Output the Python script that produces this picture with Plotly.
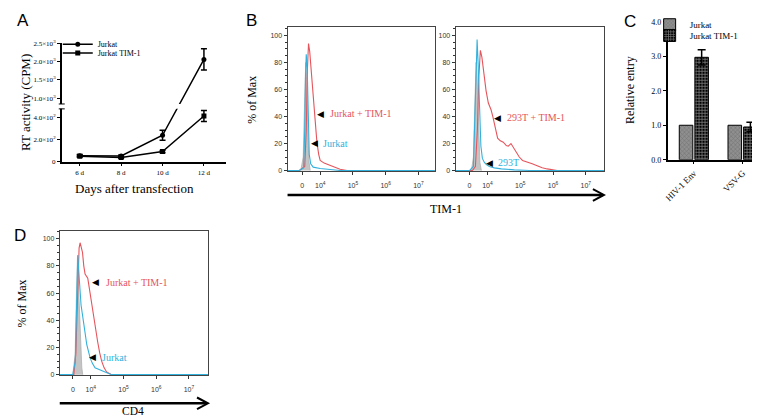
import plotly.graph_objects as go

W, H = 760, 417
def PX(px): return px / W
def PY(py): return 1 - py / H

SERIF = "Liberation Serif, Times New Roman, serif"
SANS = "Liberation Sans, Arial, sans-serif"
RED = "#e5555c"
BLUE = "#33b1dc"
GRAY = "#c4c4c4"

# ---------------- Panel A data ----------------
days = [6, 8, 10, 12]
day_labels = ["6 d", "8 d", "10 d", "12 d"]
rt_jurkat = [55, 52, 240, 2060]
rt_jurkat_err = [10, 8, 45, 290]
rt_tim1 = [50, 38, 92, 415]
rt_tim1_err = [8, 6, 10, 50]
rt_tick_vals = [0, 200, 400, 1000, 1500, 2000, 2500]
rt_tick_text = ["0", "2.0×10<sup>2</sup>", "4.0×10<sup>2</sup>", "1.0×10<sup>3</sup>",
                "1.5×10<sup>3</sup>", "2.0×10<sup>3</sup>", "2.5×10<sup>3</sup>"]

# broken y axis (GraphPad style): lower segment 0-480, upper 839-2500
LOW_TOP, UP_BOTTOM, UP_TOP = 480, 839, 2500
SEG_LOW, SEG_GAP, SEG_UP = 54, 5, 62
def brk(v):
    if v <= LOW_TOP:
        return v / LOW_TOP * SEG_LOW
    if v >= UP_BOTTOM:
        return SEG_LOW + SEG_GAP + (v - UP_BOTTOM) / (UP_TOP - UP_BOTTOM) * SEG_UP
    return SEG_LOW + (v - LOW_TOP) / (UP_BOTTOM - LOW_TOP) * SEG_GAP

# ---------------- Panel B / D data (flow histograms, biexponential display units) ----------------
flow_tick_vals = [3.45, 4, 5, 6, 7]
flow_tick_text = ["0", "10<sup>4</sup>", "10<sup>5</sup>", "10<sup>6</sup>", "10<sup>7</sup>"]
flow_minor = [3.1, 3.2, 3.3, 3.6, 3.7, 3.8, 3.9,
              4.301, 4.477, 4.602, 4.699, 4.778, 4.845, 4.903, 4.954,
              5.301, 5.477, 5.602, 5.699, 5.778, 5.845, 5.903, 5.954,
              6.301, 6.477, 6.602, 6.699, 6.778, 6.845, 6.903, 6.954,
              7.301, 7.477]

# B left: Jurkat
bl_iso_x = [3.404, 3.48, 3.526, 3.556, 3.587, 3.617, 3.648, 3.693]
bl_iso_y = [0, 10, 55, 80, 65, 30, 8, 0]
bl_ctrl_x = [3.0, 3.36, 3.49, 3.526, 3.55, 3.572, 3.602, 3.632, 3.663, 3.708, 3.784, 3.997, 4.301, 4.605, 7.55]
bl_ctrl_y = [0, 0, 2, 30, 70, 86, 75, 40, 12, 5, 2.5, 1.5, 0.8, 0, 0]
bl_tim_x = [3.0, 3.36, 3.526, 3.572, 3.608, 3.641, 3.678, 3.745, 3.815, 3.897, 3.952, 3.997,
            4.119, 4.301, 4.453, 4.605, 4.818, 7.55]
bl_tim_y = [0, 0, 3, 30, 75, 94, 88, 69, 43, 21, 12, 7.5, 5.5, 4, 2.5, 1, 0, 0]

# B right: 293T
br_iso_x = [3.511, 3.572, 3.617, 3.654, 3.684, 3.724, 3.769, 3.815]
br_iso_y = [0, 10, 50, 80, 70, 30, 6, 0]
br_ctrl_x = [3.0, 3.45, 3.572, 3.617, 3.654, 3.684, 3.714, 3.754, 3.80, 3.845, 3.906, 3.967,
             4.058, 4.21, 4.423, 4.818, 5.274, 7.55]
br_ctrl_y = [0, 0, 3, 40, 85, 97, 80, 45, 18, 9, 6, 4.5, 3, 2, 1.2, 0.5, 0, 0]
br_tim_x = [3.0, 3.541, 3.632, 3.693, 3.739, 3.784, 3.83, 3.891, 3.958, 4.027, 4.11, 4.164,
            4.225, 4.31, 4.392, 4.483, 4.575, 4.635, 4.717, 4.787, 4.869, 4.97, 5.07, 5.213,
            5.365, 5.517, 5.669, 5.821, 5.973, 6.125, 7.55]
br_tim_y = [0, 0, 3, 30, 70, 89, 84, 70, 59, 50, 45, 40, 34, 24, 22, 21, 18.5, 18, 20, 17,
            14, 10, 7.5, 6.5, 5, 3.5, 2, 1.2, 0.5, 0, 0]

# D: CD4 on Jurkat
d_iso_x = [3.45, 3.52, 3.562, 3.593, 3.632, 3.678, 3.724, 3.754]
d_iso_y = [0, 15, 60, 87, 60, 25, 5, 0]
d_ctrl_x = [3.0, 3.45, 3.526, 3.562, 3.602, 3.648, 3.702, 3.775, 3.83, 3.876, 3.976, 4.043,
            4.128, 4.331, 4.483, 4.635, 7.58]
d_ctrl_y = [0, 0, 10, 60, 88, 70, 51, 39, 30, 22, 12.5, 8.5, 5, 3, 1.5, 0, 0]
d_tim_x = [3.0, 3.48, 3.541, 3.602, 3.641, 3.672, 3.708, 3.745, 3.784, 3.824, 3.906, 3.976,
           4.028, 4.079, 4.149, 4.21, 4.271, 4.331, 4.407, 4.483, 4.635, 7.58]
d_tim_y = [0, 0, 15, 70, 93, 97, 94, 90, 80, 74, 71, 60, 51, 41, 31, 24, 16, 10, 5, 2, 0, 0]

# ---------------- Panel C data ----------------
entry_cats = ["HIV-1 Env", "VSV-G"]
entry_jurkat = [1.0, 1.0]
entry_tim1 = [2.97, 0.95]
entry_tim1_err = [0.22, 0.14]

fig = go.Figure()

# ---- Panel A traces
fig.add_trace(go.Scatter(
    x=days, y=[brk(v) for v in rt_jurkat], name="Jurkat", mode="lines+markers",
    line=dict(color="black", width=1.5), marker=dict(symbol="circle", size=5, color="black"),
    error_y=dict(type="data", symmetric=False,
                 array=[brk(v + e) - brk(v) for v, e in zip(rt_jurkat, rt_jurkat_err)],
                 arrayminus=[brk(v) - brk(v - e) for v, e in zip(rt_jurkat, rt_jurkat_err)],
                 color="black", thickness=1.5, width=3),
    xaxis="x", yaxis="y", legend="legend"))
fig.add_trace(go.Scatter(
    x=days, y=[brk(v) for v in rt_tim1], name="Jurkat TIM-1", mode="lines+markers",
    line=dict(color="black", width=1.5), marker=dict(symbol="square", size=5, color="black"),
    error_y=dict(type="data", symmetric=False,
                 array=[brk(v + e) - brk(v) for v, e in zip(rt_tim1, rt_tim1_err)],
                 arrayminus=[brk(v) - brk(v - e) for v, e in zip(rt_tim1, rt_tim1_err)],
                 color="black", thickness=1.5, width=3),
    xaxis="x", yaxis="y", legend="legend2"))

# ---- histogram traces
def hist(xs, ys, color, xa, ya, filled=False):
    if filled:
        return go.Scatter(x=xs, y=ys, mode="lines", line=dict(color="#b0b0b0", width=0.8),
                          fill="tozeroy", fillcolor=GRAY, xaxis=xa, yaxis=ya, showlegend=False,
                          hoverinfo="skip")
    return go.Scatter(x=xs, y=ys, mode="lines", line=dict(color=color, width=1.1),
                      xaxis=xa, yaxis=ya, showlegend=False, hoverinfo="skip")

for (ix, iy, cx, cy, tx, ty, xa, ya) in [
        (bl_iso_x, bl_iso_y, bl_ctrl_x, bl_ctrl_y, bl_tim_x, bl_tim_y, "x2", "y2"),
        (br_iso_x, br_iso_y, br_ctrl_x, br_ctrl_y, br_tim_x, br_tim_y, "x3", "y3"),
        (d_iso_x, d_iso_y, d_ctrl_x, d_ctrl_y, d_tim_x, d_tim_y, "x4", "y4")]:
    fig.add_trace(hist(ix, iy, GRAY, xa, ya, filled=True))
    fig.add_trace(hist(tx, ty, RED, xa, ya))
    fig.add_trace(hist(cx, cy, BLUE, xa, ya))

# ---- Panel C traces
fig.add_trace(go.Bar(
    x=entry_cats, y=entry_jurkat, name="Jurkat", xaxis="x5", yaxis="y5", legend="legend3",
    marker=dict(color="#8a8a8a", line=dict(color="black", width=1),
                pattern=dict(shape="x", fgcolor="#505050", bgcolor="#8f8f8f", size=3, solidity=0.3))))
fig.add_trace(go.Bar(
    x=entry_cats, y=entry_tim1, name="Jurkat TIM-1", xaxis="x5", yaxis="y5", legend="legend4",
    error_y=dict(type="data", array=entry_tim1_err, color="black", thickness=1.5, width=4),
    marker=dict(color="black", line=dict(color="black", width=1),
                pattern=dict(shape="+", fgcolor="white", bgcolor="black", size=3, solidity=0.45))))

# ---------------- Layout ----------------
tickfont_A = dict(family=SERIF, size=7, color="black")
flow_tickfont = dict(family=SANS, size=7, color="#333")

def flow_xaxis(x0, x1, anchor, rng):
    return dict(domain=[PX(x0), PX(x1)], anchor=anchor, range=rng,
                tickmode="array", tickvals=flow_tick_vals, ticktext=flow_tick_text,
                ticks="outside", ticklen=3, tickcolor="#333", tickwidth=1,
                showline=True, mirror=True, linecolor="#444", linewidth=1,
                showgrid=False, zeroline=False, tickfont=flow_tickfont, ticklabelstandoff=4)

def flow_minor_axis(base, anchor, rng):
    return dict(overlaying=base, anchor=anchor, range=rng, side="bottom",
                tickmode="array", tickvals=flow_minor, showticklabels=False,
                ticks="outside", ticklen=2, tickcolor="#333", tickwidth=1,
                showline=False, showgrid=False, zeroline=False)

def flow_yaxis(y0, y1, anchor, rng):
    return dict(domain=[PY(y1), PY(y0)], anchor=anchor, range=rng,
                tickmode="array", tickvals=[0, 20, 40, 60, 80, 100],
                ticks="outside", ticklen=3, tickcolor="#333",
                minor=dict(dtick=5, ticks="outside", ticklen=2, tickcolor="#333"),
                showline=True, mirror=True, linecolor="#444", linewidth=1,
                showgrid=False, zeroline=False, tickfont=flow_tickfont)

ann = []
def text(x, y, s, size=12, color="black", family=SERIF, xanchor="center", angle=0):
    ann.append(dict(x=PX(x), y=PY(y), xref="paper", yref="paper", text=s, showarrow=False,
                    font=dict(family=family, size=size, color=color),
                    xanchor=xanchor, yanchor="middle", textangle=angle))

# panel letters
text(11, 9, "A", size=17, family=SANS)
text(241, 9, "B", size=17, family=SANS)
text(621, 10, "C", size=17, family=SANS)
text(8, 228, "D", size=17, family=SANS)

# axis titles
text(13, 92, "RT activity (CPM)", size=13, angle=-90)
text(123, 180, "Days after transfection", size=13)
text(241, 90, "% of Max", size=12, angle=-90)
text(436, 201, "TIM-1", size=12)
text(10, 298, "% of Max", size=12, angle=-90)
text(122, 408, "CD4", size=11.5)
text(622, 80, "Relative entry", size=12, angle=-90)

# histogram labels with pointer triangles
for (tx, ty, s, col) in [(310, 104, "Jurkat + TIM-1", RED), (304, 134, "Jurkat", BLUE),
                          (488, 108, "293T + TIM-1", RED), (480, 154, "293T", BLUE),
                          (84, 276, "Jurkat + TIM-1", RED), (81, 353, "Jurkat", BLUE)]:
    ann.append(dict(x=PX(tx), y=PY(ty), xref="paper", yref="paper", text="◀", showarrow=False,
                    font=dict(family="DejaVu Sans", size=9, color="black"),
                    xanchor="center", yanchor="middle"))
    text(tx + 7 if col == BLUE else tx + 8, ty, s, size=10, color=col, xanchor="left")

shapes = []
# break of the y axis in A
shapes.append(dict(type="rect", xref="paper", yref="paper", x0=PX(44), x1=PX(216),
                   y0=PY(99), y1=PY(94), fillcolor="white", line=dict(width=0), layer="above"))
for py in (94, 99):
    shapes.append(dict(type="line", xref="paper", yref="paper", x0=PX(47), x1=PX(53),
                       y0=PY(py), y1=PY(py), line=dict(color="black", width=1), layer="above"))
# big arrows under B and D
for (x0, x1, y) in [(277, 594, 187), (48, 196, 400)]:
    shapes.append(dict(type="line", xref="paper", yref="paper", x0=PX(x0), x1=PX(x1),
                       y0=PY(y), y1=PY(y), line=dict(color="black", width=2.5)))
    shapes.append(dict(type="path", xref="paper", yref="paper",
                       path=f"M {PX(x1-10)},{PY(y-6)} L {PX(x1+1)},{PY(y)} L {PX(x1-10)},{PY(y+6)}",
                       line=dict(color="black", width=2)))

def one_legend(x, y, size):
    return dict(x=PX(x), y=PY(y), xanchor="left", yanchor="middle", bgcolor="rgba(0,0,0,0)",
                font=dict(family=SERIF, size=size, color="black"), itemwidth=30, tracegroupgap=0)

fig.update_layout(
    width=W, height=H, margin=dict(l=0, r=0, t=0, b=0),
    paper_bgcolor="white", plot_bgcolor="white",
    showlegend=True,
    xaxis=dict(domain=[PX(50), PX(215)], anchor="y", range=[5.13, 13.06],
               tickmode="array", tickvals=days, ticktext=day_labels,
               ticks="outside", ticklen=3, tickcolor="black", showline=True, linecolor="black",
               linewidth=1.5, showgrid=False, zeroline=False, tickfont=tickfont_A),
    yaxis=dict(domain=[PY(153), PY(32)], anchor="x", range=[0, brk(UP_TOP)],
               tickmode="array", tickvals=[brk(v) for v in rt_tick_vals], ticktext=rt_tick_text,
               ticks="outside", ticklen=3, tickcolor="black", showline=True, linecolor="black",
               linewidth=1.5, showgrid=False, zeroline=False, tickfont=tickfont_A),
    xaxis2=flow_xaxis(277, 425, "y2", [3.0, 7.5]),
    yaxis2=flow_yaxis(15, 163, "x2", [-0.7, 106.5]),
    xaxis3=flow_xaxis(446, 595, "y3", [3.03, 7.55]),
    yaxis3=flow_yaxis(15, 163, "x3", [-0.7, 106.5]),
    xaxis4=flow_xaxis(48, 197, "y4", [3.05, 7.58]),
    yaxis4=flow_yaxis(224, 371.5, "x4", [-0.6, 105.5]),
    xaxis6=flow_minor_axis("x2", "y2", [3.0, 7.5]),
    xaxis7=flow_minor_axis("x3", "y3", [3.03, 7.55]),
    xaxis8=flow_minor_axis("x4", "y4", [3.05, 7.58]),
    xaxis5=dict(domain=[PX(659), PX(757)], anchor="y5", range=[-0.54, 1.46],
                ticks="outside", ticklen=3, tickcolor="black", tickangle=-45,
                showline=True, linecolor="black", linewidth=1.5, showgrid=False,
                tickfont=dict(family=SERIF, size=9, color="black")),
    yaxis5=dict(domain=[PY(151), PY(10)], anchor="x5", range=[0, 4],
                tickvals=[0, 1, 2, 3, 4], tickformat=".1f",
                ticks="outside", ticklen=3, tickcolor="black",
                showline=True, linecolor="black", linewidth=1.5, showgrid=False, zeroline=False,
                tickfont=dict(family=SERIF, size=8, color="black")),
    barmode="group", bargap=0.36, bargroupgap=0.13,
    legend=one_legend(46, 33, 8),
    legend2=one_legend(46, 42, 8),
    legend3=one_legend(641, 13, 9),
    legend4=one_legend(641, 24, 9),
    annotations=ann, shapes=shapes,
)

fig.write_html("out.html")
